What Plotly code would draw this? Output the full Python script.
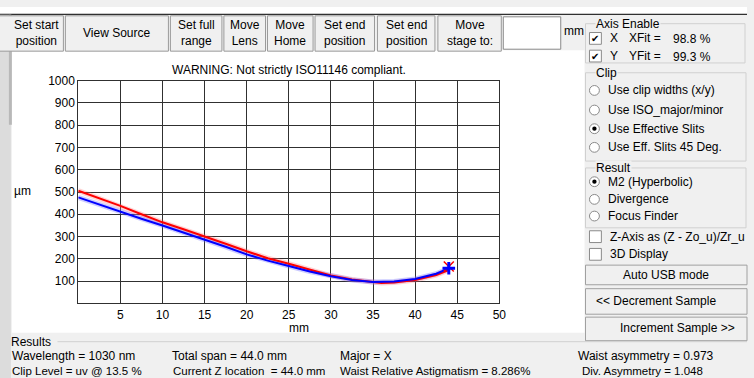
import plotly.graph_objects as go

W, H = 754, 378

# ---------------- data ----------------
z_x = [0, 2.5, 5, 7.5, 10, 12.5, 15, 17.5, 20, 22.5, 25, 27.5, 30, 32.5, 35, 36, 37.5, 40, 42.5, 44]
w_x = [506, 472, 438, 400, 364, 333, 302, 268, 234, 203, 178, 150, 125, 107, 95, 92, 94, 105, 127, 150]
z_y = [0, 2.5, 5, 7.5, 10, 12.5, 15, 17.5, 20, 22.5, 25, 27.5, 30, 32.5, 35, 36, 37.5, 40, 42.5, 44]
w_y = [476, 443, 410, 380, 350, 319, 288, 254, 220, 192, 168, 143, 122, 105, 96, 96, 98, 110, 133, 157]
cur_z = [44]
cur_wx = [166]
cur_wy = [158]

x_ticks = [5, 10, 15, 20, 25, 30, 35, 40, 45, 50]
y_ticks = [100, 200, 300, 400, 500, 600, 700, 800, 900, 1000]

FONT = "Liberation Sans"


def px(x):
    return x / W


def py(y):
    return 1 - y / H


fig = go.Figure()

# halos (measured points look)
fig.add_trace(go.Scatter(x=z_x, y=w_x, mode="lines", line=dict(color="rgba(255,110,110,0.30)", width=5),
                         hoverinfo="skip", showlegend=False))
fig.add_trace(go.Scatter(x=z_y, y=w_y, mode="lines", line=dict(color="rgba(110,110,255,0.35)", width=5),
                         hoverinfo="skip", showlegend=False))
# fitted curves
fig.add_trace(go.Scatter(x=z_x, y=w_x, mode="lines", line=dict(color="#ff0000", width=2), showlegend=False))
fig.add_trace(go.Scatter(x=z_y, y=w_y, mode="lines", line=dict(color="#0000ff", width=2), showlegend=False))
# current position markers
fig.add_trace(go.Scatter(x=cur_z, y=cur_wx, mode="markers",
                         marker=dict(symbol="x-thin", size=10, color="#ff0000",
                                     line=dict(color="#ff0000", width=1.5)),
                         showlegend=False))
fig.add_trace(go.Scatter(x=cur_z, y=cur_wy, mode="markers",
                         marker=dict(symbol="cross-thin", size=9, color="#0000ff",
                                     line=dict(color="#0000ff", width=3)),
                         showlegend=False))

shapes = []
ann = []


def rect(x0, y0, x1, y1, fill=None, line="#a0a0a0", lw=1, layer="below"):
    shapes.append(dict(type="rect", xref="paper", yref="paper", x0=px(x0), x1=px(x1), y0=py(y1), y1=py(y0),
                       fillcolor=fill if fill else "rgba(0,0,0,0)",
                       line=dict(color=line, width=lw) if line else dict(width=0), layer=layer))


def hline(x0, x1, y, color="#d0d0d0", lw=1):
    shapes.append(dict(type="line", xref="paper", yref="paper", x0=px(x0), x1=px(x1), y0=py(y), y1=py(y),
                       line=dict(color=color, width=lw), layer="below"))


def text(x, y, s, anchor="left", size=12, color="#000000", bg=None):
    a = dict(xref="paper", yref="paper", x=px(x), y=py(y), text=s, showarrow=False,
             xanchor=anchor, yanchor="middle", font=dict(family=FONT, size=size, color=color))
    if bg:
        a["bgcolor"] = bg
        a["borderpad"] = 0
    ann.append(a)


def radio(cx, cy, on=False):
    shapes.append(dict(type="circle", xref="paper", yref="paper", x0=px(cx - 5), x1=px(cx + 5),
                       y0=py(cy + 5), y1=py(cy - 5), fillcolor="#ffffff", line=dict(color="#8a8a8a", width=1),
                       layer="below"))
    if on:
        shapes.append(dict(type="circle", xref="paper", yref="paper", x0=px(cx - 2.2), x1=px(cx + 2.2),
                           y0=py(cy + 2.2), y1=py(cy - 2.2), fillcolor="#000000", line=dict(width=0),
                           layer="below"))


def checkbox(x0, y0, on=False):
    rect(x0, y0, x0 + 12, y0 + 12, fill="#ffffff", line="#8a8a8a")
    if on:
        text(x0 + 6, y0 + 6.5, "✔", anchor="center", size=10)


# window background pieces
rect(0, 0, 754, 7, fill="#ffffff", line=None)
hline(0, 754, 7.5, color="#303030", lw=1.2)
# white chart panel
rect(12, 44, 590, 332, fill="#ffffff", line=None)
# left gray strip
rect(0, 8, 11, 378, fill="#dcdcdc", line=None)
rect(9, 8, 12, 120, fill="#b8b8b8", line=None)

# top buttons
buttons = [
    (-2, 64, "Set start<br>position", 12, "left"),
    (66, 170, "View Source", None, "center"),
    (172, 224, "Set full<br>range", None, "center"),
    (226, 268, "Move<br>Lens", None, "center"),
    (270, 316, "Move<br>Home", None, "center"),
    (318, 378, "Set end<br>position", None, "center"),
    (381, 439, "Set end<br>position", None, "center"),
    (442, 506, "Move<br>stage to:", None, "center"),
]
for x0, x1, label, tx, anc in buttons:
    rect(x0, 9, x1, 45, fill="#f0f0f0", line="#9a9a9a")
    text(tx if tx is not None else (x0 + x1) / 2, 27, label, anchor=anc, size=12)
rect(508, 10, 566, 43, fill="#ffffff", line="#8a8a8a")
text(567, 24, "mm", size=12)

# Axis Enable group
rect(591, 17, 752, 57, line="#d0d0d0")
text(601, 17, "Axis Enable", size=12, bg="#f0f0f0")
checkbox(595, 26, on=True)
text(614, 32, "X", size=12)
text(633, 32, "XFit =", size=12)
text(677, 33, "98.8 %", size=12)
checkbox(595, 44, on=True)
text(614, 50, "Y", size=12)
text(633, 50, "YFit =", size=12)
text(677, 51, "99.3 %", size=12)

# Clip group
rect(591, 67, 753, 157, line="#d0d0d0")
text(601, 67, "Clip", size=12, bg="#f0f0f0")
clip_items = [(85, "Use clip widths (x/y)", False), (105, "Use ISO_major/minor", False),
              (124, "Use Effective Slits", True), (143, "Use Eff. Slits 45 Deg.", False)]
for y, s, on in clip_items:
    radio(600, y, on)
    text(612, y, s, size=12)

# Result group
rect(591, 164, 753, 225, line="#d0d0d0")
text(601, 164, "Result", size=12, bg="#f0f0f0")
res_items = [(178, "M2 (Hyperbolic)", True), (196, "Divergence", False), (213, "Focus Finder", False)]
for y, s, on in res_items:
    radio(600, y, on)
    text(612, y, s, size=12)

checkbox(595, 228, on=False)
text(614, 234, "Z-Axis as (Z - Zo_u)/Zr_u", size=12)
checkbox(595, 246, on=False)
text(614, 252, "3D Display", size=12)

rect(591, 263, 754, 283, fill="#f0f0f0", line="#a0a0a0")
text(672, 273, "Auto USB mode", anchor="center", size=12)
rect(591, 287, 754, 313, fill="#f0f0f0", line="#a0a0a0")
text(600, 300, "<< Decrement Sample", size=12)
rect(591, 316, 754, 340, fill="#f0f0f0", line="#a0a0a0")
text(744, 327, "Increment Sample >>", anchor="right", size=12)

# Results box
hline(58, 754, 341)
text(9, 341, "Results", size=12)
text(10, 356, "Wavelength = 1030 nm", size=12)
text(172, 356, "Total span = 44.0 mm", size=12)
text(341, 356, "Major = X", size=12)
text(581, 356, "Waist asymmetry = 0.973", size=12)
text(10, 370.5, "Clip Level = uv @ 13.5 %", size=11.5)
text(173, 371, "Current Z location \u00a0= 44.0 mm", size=11.5)
text(341, 371, "Waist Relative Astigmatism = 8.286%", size=11.5)
text(585, 371, "Div. Asymmetry = 1.048", size=11.5)

# chart texts
text(291.5, 64, "WARNING: Not strictly ISO11146 compliant.", anchor="center", size=12)
text(12, 187, "µm", size=12)
text(302, 327, "mm", anchor="center", size=12)

GRID = "#303030"
fig.update_layout(
    width=W, height=H, margin=dict(l=0, r=0, t=0, b=0),
    paper_bgcolor="#f0f0f0", plot_bgcolor="#ffffff",
    font=dict(family=FONT, size=12, color="#000000"),
    xaxis=dict(domain=[79 / W, 504 / W], range=[0, 50], tickvals=x_ticks, ticktext=[str(v) for v in x_ticks],
               showgrid=True, gridcolor=GRID, gridwidth=1, showline=True, linecolor=GRID, linewidth=1,
               mirror=True, ticks="", zeroline=False, fixedrange=True,
               tickfont=dict(family=FONT, size=12, color="#000000")),
    yaxis=dict(domain=[1 - 302 / H, 1 - 75 / H], range=[0, 1000], tickvals=y_ticks,
               ticktext=[str(v) for v in y_ticks],
               showgrid=True, gridcolor=GRID, gridwidth=1, showline=True, linecolor=GRID, linewidth=1,
               mirror=True, ticks="", zeroline=False, fixedrange=True,
               tickfont=dict(family=FONT, size=12, color="#000000")),
    shapes=shapes, annotations=ann, showlegend=False,
)

fig.write_html("out.html", config={"displayModeBar": False})
